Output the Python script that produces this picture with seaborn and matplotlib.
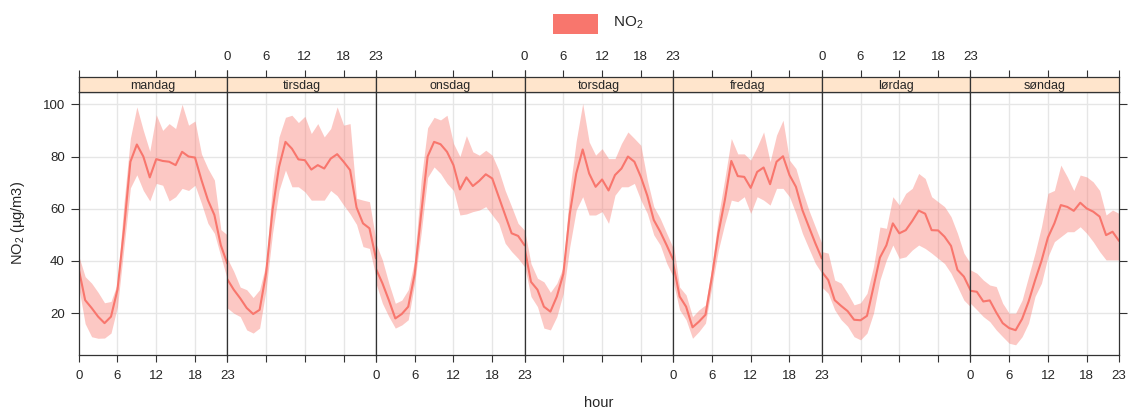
import matplotlib
matplotlib.use("Agg")
import matplotlib.pyplot as plt
import seaborn as sns
import pandas as pd
from matplotlib.patches import Rectangle

# ---------------- data ----------------
days = ["mandag", "tirsdag", "onsdag", "torsdag", "fredag", "lørdag", "søndag"]
hours = list(range(24))
hour_ticks = [0, 6, 12, 18, 23]
y_ticks = [20, 40, 60, 80, 100]

mandag_mean = [37, 25, 22, 18.7, 16.2, 18.7, 29, 52, 78, 84.6, 80, 72, 79, 78.3, 78, 76.7, 81.8, 80, 79.6, 71, 63.3, 57.6, 46, 39]
mandag_lo = [30, 16, 11, 10.4, 10.5, 12.4, 22.5, 45, 68, 73, 67, 63, 69.7, 69, 63, 64.6, 67.8, 67, 69, 62, 54.4, 50.6, 41.7, 33]
mandag_hi = [42, 34, 31.5, 28, 24, 24.5, 31.5, 62, 87, 99, 90, 82, 96, 90, 92.6, 90.7, 100, 92, 93.6, 81, 75.4, 71, 52, 50]

tirsdag_mean = [33, 29, 25.7, 22, 19.7, 21.3, 35.3, 59.5, 76, 85.6, 83, 78.9, 78.6, 75, 76.7, 75.4, 79.2, 80.9, 78, 74.8, 60.5, 54.4, 52.5, 41]
tirsdag_lo = [22, 20, 18.7, 13.6, 12.4, 14.3, 29, 50.6, 67, 74.8, 68.4, 68.4, 66.5, 63.3, 63.3, 63.3, 67, 65, 61.4, 58, 54, 45.5, 44.8, 34]
tirsdag_hi = [41, 36, 30, 29, 26, 29, 39, 69.7, 87.5, 95, 95.8, 93, 95.4, 88.8, 92.6, 87.5, 90.7, 99, 92, 92.6, 64, 63.3, 62.7, 48]

onsdag_mean = [37, 31.5, 25, 18, 19.7, 22.5, 35, 58, 80, 85.6, 84.7, 81.8, 76.7, 67.4, 72, 68.7, 70.7, 73.2, 71.6, 64.6, 57.6, 50.6, 49.6, 46]
onsdag_lo = [31.5, 23.8, 18.7, 14.3, 15.5, 17.5, 31.5, 50.6, 72, 76, 73.5, 69.7, 67, 57.6, 58, 58.9, 59.5, 60.8, 57.6, 54.4, 46.8, 43.6, 41, 37.8]
onsdag_hi = [46.7, 40.4, 31.5, 23.8, 25, 29, 40.4, 71, 91, 95, 94, 95.8, 85, 80, 88, 81.8, 80.5, 82.4, 80.5, 74.8, 67, 60.8, 54.4, 51.8]

torsdag_mean = [45, 32, 29, 22.5, 20.6, 26.4, 35, 58, 73.5, 82.7, 73.5, 68.4, 71.2, 67, 72.9, 75.4, 80, 78, 72.2, 65, 55.7, 51.2, 46, 40.5]
torsdag_lo = [38, 26.4, 22.5, 14.3, 13.6, 18.7, 27.6, 45.5, 59.5, 64.6, 57.6, 57.6, 58.9, 54.4, 65.2, 68.4, 68.4, 69.7, 63.3, 58.2, 50, 46.1, 39.1, 34]
torsdag_hi = [52, 39, 33.4, 32, 28, 31.5, 37.8, 67, 86, 100.3, 85.6, 80.5, 83, 79.2, 79.2, 85, 89.4, 86.9, 84.3, 71, 60.8, 56.3, 50.6, 45]

fredag_mean = [39, 26.4, 22.5, 14.6, 16.8, 19.4, 34, 50.6, 63.3, 78.3, 72.5, 72.2, 68, 74.1, 75.8, 69.4, 78, 80.1, 72.9, 68.4, 59.5, 53.1, 46.8, 41]
fredag_lo = [32, 21.3, 17.5, 10.4, 13, 16.2, 30.2, 44.2, 54.4, 63.3, 62.7, 64.6, 58.2, 64.6, 63.3, 61.4, 67.8, 67.8, 64.6, 58.2, 50.6, 44.8, 39.1, 35.3]
fredag_hi = [47, 30, 27, 18.7, 21.3, 23.2, 37.8, 57, 71.6, 86.9, 81, 81, 78.6, 83.7, 89.4, 78, 88.2, 93.9, 78.6, 75.4, 67, 59.5, 53.1, 46.8]

lordag_mean = [35.9, 32.7, 25, 22.8, 20.8, 17.5, 17.3, 19, 30, 41.3, 46, 54.4, 50.6, 51.8, 55.3, 59.3, 58.1, 51.8, 51.7, 49.3, 45.8, 36.6, 34, 28.9]
lordag_lo = [30, 27.6, 21.3, 17.5, 15, 11, 9.8, 12.4, 20, 32.7, 40.4, 46.1, 41, 41.6, 44.2, 46.1, 44.8, 43, 41, 39, 35.3, 30.2, 25, 22.5]
lordag_hi = [43.6, 43, 32.7, 31.5, 27.6, 23.2, 24, 27.6, 37.8, 53, 52.5, 64.6, 61.4, 65.9, 67.8, 73.5, 71.6, 64.6, 62.7, 60.8, 57, 50.6, 43, 39.1]

sondag_mean = [28.6, 28.2, 24.5, 24.9, 20.3, 16.2, 14.3, 13.5, 17.8, 24.4, 32.5, 40, 49, 54.4, 61.4, 60.7, 59.2, 62.3, 60.1, 58.9, 57, 49.9, 51.2, 47.7]
sondag_lo = [23.8, 21.3, 18.7, 16.8, 13.6, 11, 8.5, 7.9, 11, 16.2, 26.4, 31.5, 41.6, 47.4, 49.3, 51.2, 51.2, 53.1, 50.6, 47.4, 43.6, 40.4, 40.4, 40.4]
sondag_hi = [36.6, 35.3, 32.7, 30.8, 30.2, 23.8, 20, 20, 25, 34, 43, 53.1, 65.9, 67, 76.7, 72.2, 67, 72.9, 72.2, 70.3, 67, 57.6, 59.5, 58.2]

means = [mandag_mean, tirsdag_mean, onsdag_mean, torsdag_mean, fredag_mean, lordag_mean, sondag_mean]
lows = [mandag_lo, tirsdag_lo, onsdag_lo, torsdag_lo, fredag_lo, lordag_lo, sondag_lo]
highs = [mandag_hi, tirsdag_hi, onsdag_hi, torsdag_hi, fredag_hi, lordag_hi, sondag_hi]

rows = []
for d, m, lo, hi in zip(days, means, lows, highs):
    for h, a, b, c in zip(hours, m, lo, hi):
        rows.append({"day": d, "hour": h, "no2": a, "lo": b, "hi": c})
df = pd.DataFrame(rows)

# ---------------- style ----------------
sns.set_style("white")
plt.rcParams["font.family"] = ["Liberation Sans", "DejaVu Sans"]
plt.rcParams["mathtext.fontset"] = "custom"
plt.rcParams["mathtext.rm"] = "Liberation Sans"
plt.rcParams["mathtext.it"] = "Liberation Sans:italic"
plt.rcParams["mathtext.default"] = "regular"

COL = "#F8766D"
GRID = "#E6E6E6"
AX = "#333333"
TXT = "#262626"
STRIP = "#FFE5CC"

W, H = 1128, 411
fig = plt.figure(figsize=(W / 100, H / 100), dpi=100)

L, R = 78.7, 1119.0
pw = (R - L) / 7
p_top, p_bot, s_top = 92.0, 355.0, 76.7


def fx(px):
    return px / W


def fy(py):
    return 1 - py / H


for i, day in enumerate(days):
    x0 = L + i * pw
    ax = fig.add_axes([fx(x0), fy(p_bot), pw / W, (p_bot - p_top) / H])
    sax = fig.add_axes([fx(x0), fy(p_top), pw / W, (p_top - s_top) / H])

    sub = df[df["day"] == day]
    for g in [6, 12, 18]:
        ax.axvline(g, color=GRID, lw=1.0, zorder=0)
    for g in y_ticks:
        ax.axhline(g, color=GRID, lw=1.0, zorder=0)
    ax.fill_between(sub["hour"], sub["lo"], sub["hi"], color=COL, alpha=0.4, lw=0, zorder=1)
    sns.lineplot(data=sub, x="hour", y="no2", ax=ax, color=COL, lw=1.5, legend=False, zorder=2)

    ax.set_xlim(0, 23)
    ax.set_ylim(4.0, 104.7)
    ax.set_xticks(hour_ticks)
    ax.set_yticks(y_ticks)
    ax.set_xlabel("")
    ax.set_ylabel("")
    for s in ax.spines.values():
        s.set_color(AX)
        s.set_linewidth(0.9)
    ax.tick_params(axis="x", bottom=True, top=False, labelbottom=(i % 2 == 0),
                   direction="out", length=5, width=0.8, color=AX, pad=6,
                   labelsize=9.5, labelcolor=TXT)
    ax.tick_params(axis="y", left=(i == 0), right=(i == 6), labelleft=(i == 0),
                   labelright=False, direction="out", length=6, width=0.8,
                   color=AX, pad=4, labelsize=9.5, labelcolor=TXT)

    sax.set_facecolor(STRIP)
    sax.set_xlim(0, 23)
    sax.set_ylim(0, 1)
    sax.set_yticks([])
    sax.set_xticks(hour_ticks)
    sax.xaxis.tick_top()
    sax.tick_params(axis="x", top=True, bottom=False, labeltop=(i % 2 == 1),
                    labelbottom=False, direction="out", length=5, width=0.8,
                    color=AX, pad=5, labelsize=9.5, labelcolor=TXT)
    for s in sax.spines.values():
        s.set_color(AX)
        s.set_linewidth(0.9)
    sax.text(11.5, 0.42, day, ha="center", va="center", fontsize=9, color=TXT)

# legend
fig.patches.append(Rectangle((fx(553), fy(34.3)), (597.7 - 553) / W, (34.3 - 14) / H,
                             transform=fig.transFigure, facecolor=COL, edgecolor="none"))
fig.text(fx(613), fy(23), "NO$_2$", ha="left", va="center", fontsize=11, color=TXT)

# axis labels
fig.text(fx(18), fy(223), "NO$_2$ (µg/m3)", rotation=90, ha="center", va="center",
         fontsize=10.5, color=TXT)
fig.text(fx(599), fy(403), "hour", ha="center", va="center", fontsize=10.5, color=TXT)

fig.savefig("out.png", dpi=100)
